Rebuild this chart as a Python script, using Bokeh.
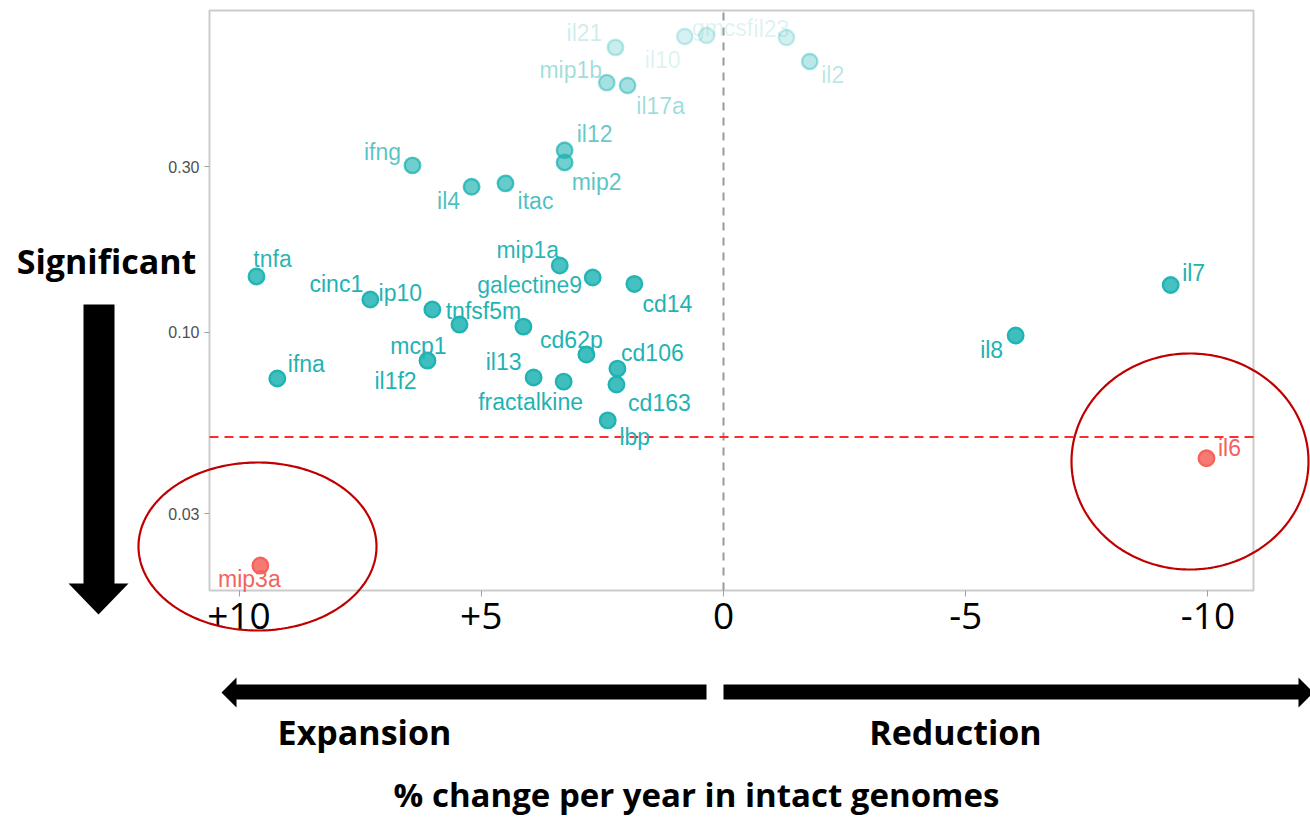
import numpy as np
from bokeh.plotting import figure
from bokeh.models import (ColumnDataSource, Range1d, LinearAxis, LogAxis, LogScale,
                          FixedTicker, Label, PolyAnnotation)
from bokeh.core.properties import value
from bokeh.embed import file_html
from bokeh.resources import INLINE

# ---------------------------------------------------------------- data
genes = ["mip3a", "il6", "il7", "il8", "tnfa", "cinc1", "ip10", "mcp1", "tnfsf5m",
         "il1f2", "ifna", "mip1a", "galectine9", "cd14", "cd62p", "cd106", "cd163",
         "il13", "fractalkine", "lbp", "ifng", "il4", "itac", "il12", "mip2",
         "mip1b", "il17a", "il21", "il10", "gmcsf", "il23", "il2"]
pct_change = [9.56, -9.97, -9.23, -6.03, 9.64, 7.29, 6.01, 5.45, 4.13,
              6.11, 9.21, 3.38, 2.70, 1.84, 2.83, 2.19, 2.21,
              3.92, 3.30, 2.39, 6.42, 5.20, 4.50, 3.28, 3.28,
              2.41, 1.98, 2.23, 0.80, 0.35, -1.30, -1.78]
p_value = [0.0213, 0.0434, 0.137, 0.098, 0.145, 0.1245, 0.1165, 0.1054, 0.104,
           0.083, 0.0737, 0.156, 0.144, 0.138, 0.0864, 0.0787, 0.0708,
           0.0742, 0.0722, 0.0558, 0.303, 0.263, 0.269, 0.335, 0.309,
           0.525, 0.515, 0.663, 0.713, 0.718, 0.708, 0.604]
sig_level = 0.05

x_ticks = [10, 5, 0, -5, -10]
x_tick_labels = ["+10", "+5", "0", "-5", "-10"]
y_ticks = [0.03, 0.1, 0.3]
y_tick_labels = ["0.03", "0.10", "0.30"]

# ---------------------------------------------------------------- layout
W, H = 1310, 819
PANEL_L, PANEL_R, PANEL_T, PANEL_B = 209, 1253, 10, 590   # panel box in page pixels
XLIM = (10.61, -10.94)          # reversed: expansion on the left
YLIM = (0.01805, 0.847)

# label offsets (pixels, y down) so text sits beside its point
label_offset = {
    "mip3a": (-11, 13), "il6": (23, -10), "il7": (23, -12), "il8": (-24, 14),
    "tnfa": (16, -17), "cinc1": (-34, -15), "ip10": (-32, -16), "mcp1": (-41, 21),
    "tnfsf5m": (-40, -16), "il1f2": (-32, 20), "ifna": (29, -14), "mip1a": (-32, -15),
    "galectine9": (-63, 7), "cd14": (33, 20), "cd62p": (-15, -15), "cd106": (35, -16),
    "cd163": (43, 18), "il13": (-30, -15), "fractalkine": (-33, 20), "lbp": (27, 17),
    "ifng": (-30, -13), "il4": (-23, 14), "itac": (30, 18), "il12": (30, -16),
    "mip2": (32, 20), "mip1b": (-36, -13), "il17a": (33, 21), "il21": (-31, -14),
    "il10": (-22, 24), "gmcsf": (16, -7), "il23": (-15, -9), "il2": (23, 14),
}

TEAL = "#1FB3B3"
RED = "#F4635C"

# extend the view so the panel occupies its box and the page margins stay drawable
kx = (XLIM[0] - XLIM[1]) / (PANEL_R - PANEL_L)
x_start = XLIM[0] + PANEL_L * kx
x_end = XLIM[1] - (W - PANEL_R) * kx
ly0, ly1 = np.log10(YLIM[0]), np.log10(YLIM[1])
ky = (ly1 - ly0) / (PANEL_B - PANEL_T)
y_top = 10 ** (ly1 + PANEL_T * ky)
y_bot = 10 ** (ly0 - (H - PANEL_B) * ky)

p_arr = np.array(p_value)
alpha = np.clip(1.15 - 1.3 * p_arr, 0.12, 1.0)
text_alpha = np.clip(1.2 - 1.45 * p_arr, 0.1, 1.0)
colors = [RED if pv < sig_level else TEAL for pv in p_value]

src = ColumnDataSource(dict(
    x=pct_change, y=p_value, gene=genes, color=colors,
    fill_alpha=alpha * 0.85, alpha=alpha, text_alpha=text_alpha,
    dx=[label_offset[g][0] for g in genes],
    dy=[label_offset[g][1] for g in genes],
))

p = figure(width=W, height=H, x_range=Range1d(x_start, x_end),
           y_range=Range1d(y_bot, y_top), y_axis_type="log",
           x_axis_location=None, y_axis_location=None,
           output_backend="svg", toolbar_location=None, min_border=0, title=None)
p.y_scale = LogScale()
p.outline_line_color = None
p.background_fill_color = "white"
p.border_fill_color = "white"
p.grid.visible = False

# panel border
p.quad(left=[XLIM[0]], right=[XLIM[1]], bottom=[YLIM[0]], top=[YLIM[1]],
       fill_color=None, line_color="#CCCCCC", line_width=2)

# reference lines
p.segment(x0=[0], y0=[YLIM[0]], x1=[0], y1=[YLIM[1]],
          line_color="#9A9A9A", line_width=2, line_dash="8 7")
p.segment(x0=[XLIM[0]], y0=[sig_level], x1=[XLIM[1]], y1=[sig_level],
          line_color="#FF2A2A", line_width=2, line_dash="9 6")

# points and their labels
p.scatter(x="x", y="y", source=src, size=15.5, fill_color="color", line_color="color",
          fill_alpha="fill_alpha", line_alpha="alpha", line_width=2.4)
p.text(x="x", y="y", text="gene", source=src, x_offset="dx", y_offset="dy",
       text_align="center", text_baseline="middle", text_color="color",
       text_alpha="text_alpha", text_font=value("Liberation Sans"), text_font_size="23px")

# axes drawn at the panel edges
xaxis = LinearAxis(fixed_location=YLIM[0], ticker=FixedTicker(ticks=x_ticks),
                   major_label_overrides=dict(zip(x_ticks, x_tick_labels)))
xaxis.axis_line_color = None
xaxis.major_tick_line_color = "#A0A0A0"
xaxis.major_tick_out = 6
xaxis.major_tick_in = 0
xaxis.minor_tick_line_color = None
xaxis.major_label_text_font = "Open Sans"
xaxis.major_label_text_font_size = "37px"
xaxis.major_label_text_color = "black"
xaxis.major_label_standoff = 6
p.add_layout(xaxis, "below")

yaxis = LogAxis(fixed_location=XLIM[0], ticker=FixedTicker(ticks=y_ticks),
                major_label_overrides=dict(zip(y_ticks, y_tick_labels)))
yaxis.axis_line_color = None
yaxis.major_tick_line_color = "#A0A0A0"
yaxis.major_tick_out = 5
yaxis.major_tick_in = 0
yaxis.minor_tick_line_color = None
yaxis.major_label_text_font = "Liberation Sans"
yaxis.major_label_text_font_size = "16px"
yaxis.major_label_text_color = "#505050"
yaxis.major_label_standoff = 5
p.add_layout(yaxis, "left")


def scr(pts):
    """page pixels (y down) -> screen units (y up)"""
    return [x for x, _ in pts], [H - y for _, y in pts]


def add_poly(pts, **kw):
    xs, ys = scr(pts)
    p.add_layout(PolyAnnotation(xs=xs, ys=ys, xs_units="screen", ys_units="screen", **kw))


# black direction arrows
add_poly([(83, 304), (114, 304), (114, 583), (128, 583), (98, 614), (68, 583), (83, 583)],
         fill_color="black", fill_alpha=1, line_color=None)
add_poly([(706, 684), (706, 699), (236, 699), (236, 707), (221, 692), (236, 677), (236, 684)],
         fill_color="black", fill_alpha=1, line_color=None)
add_poly([(723, 684), (1298, 684), (1298, 677), (1313, 692), (1298, 707), (1298, 699), (723, 699)],
         fill_color="black", fill_alpha=1, line_color=None)

# highlight rings around the significant genes
t = np.linspace(0, 2 * np.pi, 240)
for cx, cy, rx, ry in [(257, 546, 119, 84), (1189.5, 461, 118.5, 108)]:
    add_poly(list(zip(cx + rx * np.cos(t), cy + ry * np.sin(t))),
             fill_color=None, fill_alpha=0, line_color="#C00000", line_alpha=1,
             line_width=2.2)

# slide captions
for txt, cx, base, fs in [("Significant", 106, 260, "34px"), ("Expansion", 364, 731, "34px"),
                          ("Reduction", 955, 731, "34px"),
                          ("% change per year in intact genomes", 696, 794, "33px")]:
    p.add_layout(Label(x=cx, y=H - base, x_units="screen", y_units="screen", text=txt,
                       text_font="Open Sans", text_font_style="bold",
                       text_font_size=fs, text_color="black",
                       text_align="center", text_baseline="alphabetic"))

open("out.html", "w").write(file_html(p, INLINE))
